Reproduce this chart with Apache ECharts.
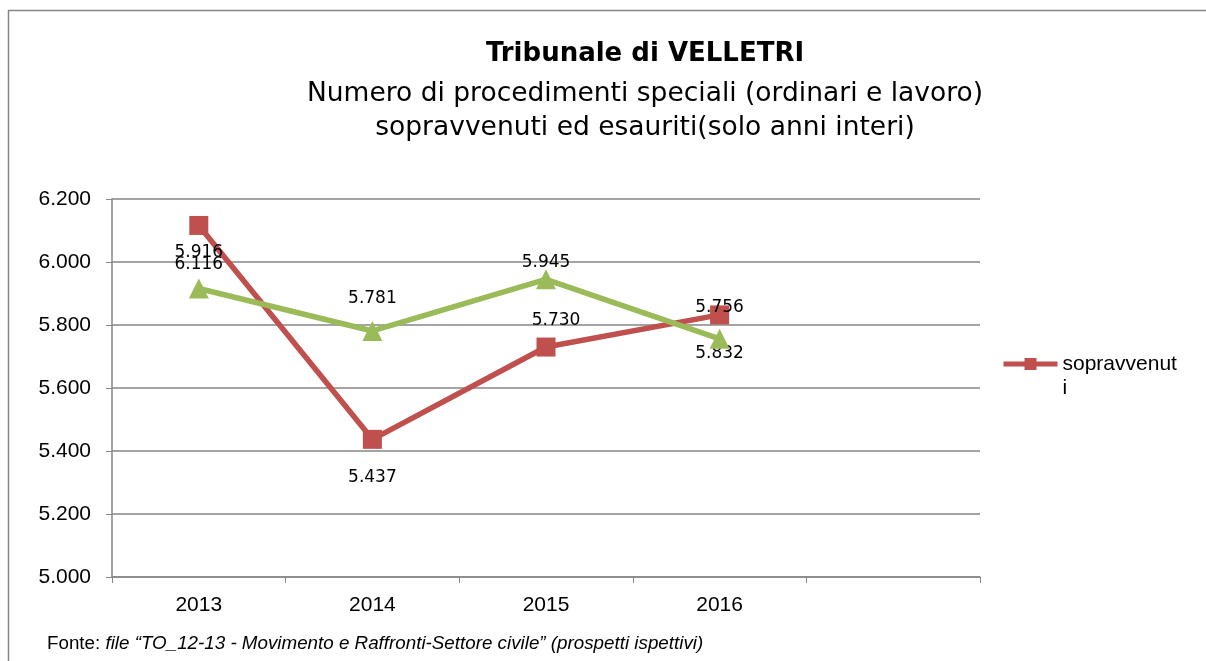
<!DOCTYPE html>
<html>
<head>
<meta charset="utf-8">
<script src="https://cdn.jsdelivr.net/npm/echarts@6/dist/echarts.min.js"></script>
<style>
  html, body { margin: 0; padding: 0; background: #fff; }
  #chart { width: 1206px; height: 661px; }
</style>
</head>
<body>
<div id="chart"></div>
<script>
// anni (the last slot is empty on the original axis)
const years = ['2013', '2014', '2015', '2016', ''];
const sopravvenuti = [6116, 5437, 5730, 5832];
const esauriti = [5916, 5781, 5945, 5756];
// where each value label sits, as in the original
const sopLabelPos = ['bottom', 'bottom', 'top', 'bottom'];
const sopLabelDist = [21, 20, 8, 21];
const esaLabelDist = [17, 14, -2, 13];

const fmt = (v) => String(v).replace(/\B(?=(\d{3})+(?!\d))/g, '.');

const chart = echarts.init(document.getElementById('chart'));

const labelFont = { fontFamily: 'DejaVu Sans', fontSize: 17, color: '#000' };

chart.setOption({
  animation: false,
  title: {
    text: 'Tribunale di VELLETRI',
    subtext: 'Numero di procedimenti speciali (ordinari e lavoro)\nsopravvenuti ed esauriti(solo anni interi)',
    left: 640,
    textAlign: 'center',
    top: 36,
    itemGap: 10,
    textStyle: { fontFamily: 'DejaVu Sans', fontSize: 26, fontWeight: 'bold', color: '#000' },
    subtextStyle: { fontFamily: 'DejaVu Sans', fontSize: 26.5, color: '#000', lineHeight: 34 },
  },
  legend: {
    data: ['sopravvenuti'],
    orient: 'vertical',
    left: 996,
    top: 323,
    itemWidth: 54,
    itemHeight: 15,
    lineStyle: { width: 5 },
    formatter: () => '\nsopravvenut\ni',
    textStyle: { fontFamily: 'Liberation Sans', fontSize: 21, color: '#000', lineHeight: 24 },
  },
  grid: { left: 112, right: 226, top: 199, bottom: 84 },
  xAxis: {
    type: 'category',
    data: years,
    boundaryGap: true,
    axisLine: { lineStyle: { color: '#868686', width: 1.5 } },
    axisTick: { show: true, length: 6, lineStyle: { color: '#868686' } },
    axisLabel: { fontFamily: 'Liberation Sans', fontSize: 21, color: '#000', margin: 18 },
  },
  yAxis: {
    type: 'value',
    min: 5000,
    max: 6200,
    interval: 200,
    axisLine: { show: true, lineStyle: { color: '#868686', width: 1.5 } },
    axisTick: { show: true, length: 6, lineStyle: { color: '#868686' } },
    splitLine: { lineStyle: { color: '#868686', width: 1.5 } },
    axisLabel: { fontFamily: 'Liberation Sans', fontSize: 21, color: '#000', margin: 21, formatter: (v) => fmt(v) },
  },
  series: [
    {
      name: 'sopravvenuti',
      type: 'line',
      data: sopravvenuti.map((v, i) => ({
        value: v,
        label: {
          position: sopLabelPos[i],
          distance: sopLabelDist[i],
          offset: i === 2 ? [10, 0] : [0, 0],
        },
      })),
      symbol: 'rect',
      symbolSize: 19,
      lineStyle: { color: '#C0504D', width: 5.5 },
      itemStyle: { color: '#C0504D' },
      label: { show: true, formatter: (p) => fmt(p.value), ...labelFont },
      z: 2,
    },
    {
      name: 'esauriti',
      type: 'line',
      data: esauriti.map((v, i) => ({
        value: v,
        label: { position: 'top', distance: esaLabelDist[i] },
      })),
      symbol: 'triangle',
      symbolSize: 20,
      lineStyle: { color: '#9BBB59', width: 5.5 },
      itemStyle: { color: '#9BBB59' },
      label: { show: true, formatter: (p) => fmt(p.value), ...labelFont },
      z: 3,
    },
  ],
  graphic: [
    {
      type: 'rect',
      shape: { x: 8.5, y: 10.5, width: 1300, height: 800 },
      style: { fill: 'none', stroke: '#868686', lineWidth: 1.5 },
      silent: true,
      z: -1,
    },
    {
      type: 'text',
      left: 47,
      top: 634,
      style: {
        text: '{a|Fonte: }{b|file “TO_12-13 - Movimento e Raffronti-Settore civile” (prospetti ispettivi)}',
        rich: {
          a: { fontFamily: 'Liberation Sans', fontSize: 18.8, lineHeight: 22, fill: '#000' },
          b: { fontFamily: 'Liberation Sans', fontSize: 18.8, lineHeight: 22, fontStyle: 'italic', fill: '#000' },
        },
      },
    },
  ],
});
</script>
</body>
</html>
